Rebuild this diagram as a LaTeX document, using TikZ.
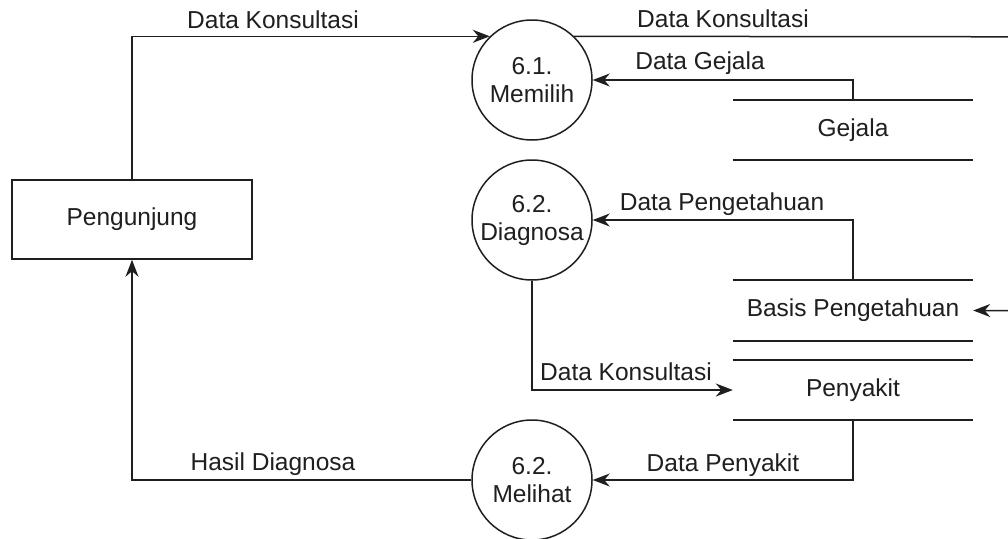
\documentclass[tikz,border=0pt]{standalone}
\usepackage{fontspec}
\setmainfont{Liberation Sans}
\usetikzlibrary{arrows.meta}
\begin{document}
\begin{tikzpicture}[x=1pt,y=-1pt,
  every node/.style={font=\fontsize{24.5}{28}\selectfont, text=black!88},
  line/.style={draw=black!88, line width=1.5pt},
  flow/.style={line, -{Stealth[length=17pt,width=13pt,inset=5.5pt]}},
  proc/.style={circle, line, minimum size=120pt, inner sep=0pt, align=center},
  entity/.style={rectangle, line, minimum width=240pt, minimum height=79pt},
  store/.style={rectangle, minimum width=240pt, inner sep=0pt},
  lbl/.style={inner sep=0pt, text height=17.5pt, text depth=0pt}
]
\clip (0,0) rectangle (1008,538);
\fill[white] (0,0) rectangle (1008,538);

% external entity and processes
\node[entity] (peng) at (132,219.5) {Pengunjung};
\node[proc] (c1) at (532,80)  {6.1.\\Memilih};
\node[proc] (c2) at (532,220) {6.2.\\Diagnosa};
\node[proc] (c3) at (532,480) {6.2.\\Melihat};

% data stores (open rectangles)
\node[store, minimum height=60pt] (gej) at (853,130)   {Gejala};
\node[store, minimum height=61pt] (bas) at (853,310.5) {Basis Pengetahuan};
\node[store, minimum height=60pt] (pen) at (853,390)   {Penyakit};
\foreach \s in {gej,bas,pen}{
  \draw[line] (\s.north west) -- (\s.north east);
  \draw[line] (\s.south west) -- (\s.south east);
}

% data flows
\draw[flow] (peng.north) |- (c1.134);
\draw[flow] (c1.46) -- (1016,36.8) -- (1016,310.5) -- (bas.east);
\draw[flow] (gej.north) |- (c1.east);
\draw[flow] (bas.north) |- (c2.east);
\draw[flow] (c2.south) |- (pen.west);
\draw[flow] (pen.south) |- (c3.east);
\draw[flow] (c3.west) -| (peng.south);

% flow labels
\node[lbl] (l1) at (273,20)  {Data Konsultasi};
\node[lbl] (l2) at (723,19)  {Data Konsultasi};
\node[lbl] (l3) at (700,61)  {Data Gejala};
\node[lbl] (l4) at (722,202) {Data Pengetahuan};
\node[lbl] (l5) at (626,372) {Data Konsultasi};
\node[lbl] (l6) at (723,463) {Data Penyakit};
\node[lbl] (l7) at (273,462) {Hasil Diagnosa};
\end{tikzpicture}
\end{document}
